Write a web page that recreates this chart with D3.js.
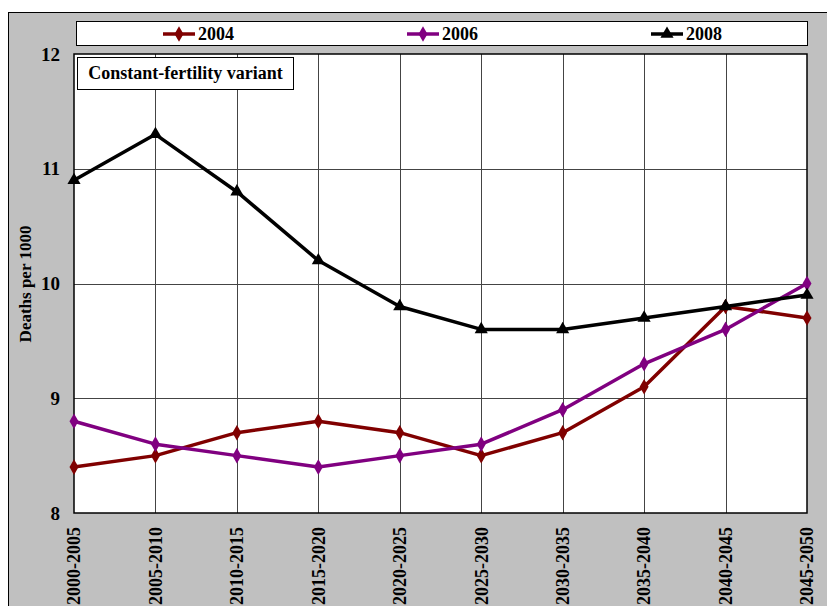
<!DOCTYPE html>
<html>
<head>
<meta charset="utf-8">
<script src="https://cdn.jsdelivr.net/npm/d3@7"></script>
<style>
  body { margin: 0; background: #fff; }
  text { font-family: "Liberation Serif", "Times New Roman", serif; font-weight: bold; }
</style>
</head>
<body>
<div id="chart"></div>
<script>
// Data
const periods = ["2000-2005", "2005-2010", "2010-2015", "2015-2020", "2020-2025",
  "2025-2030", "2030-2035", "2035-2040", "2040-2045", "2045-2050"];
const rates2004 = [8.4, 8.5, 8.7, 8.8, 8.7, 8.5, 8.7, 9.1, 9.8, 9.7];
const rates2006 = [8.8, 8.6, 8.5, 8.4, 8.5, 8.6, 8.9, 9.3, 9.6, 10.0];
const rates2008 = [10.9, 11.3, 10.8, 10.2, 9.8, 9.6, 9.6, 9.7, 9.8, 9.9];
const yTicks = [8, 9, 10, 11, 12];

const series = [
  { name: "2004", values: rates2004, color: "#800000", symbol: d3.symbolDiamond },
  { name: "2006", values: rates2006, color: "#800080", symbol: d3.symbolDiamond },
  { name: "2008", values: rates2008, color: "#000000", symbol: d3.symbolTriangle },
];

const width = 827, height = 606;
const plot = { left: 74, right: 807, top: 54, bottom: 513 };

const svg = d3.select("#chart").append("svg")
  .attr("width", width)
  .attr("height", height);

// outer grey frame
svg.append("rect")
  .attr("x", 8.5).attr("y", 12.5)
  .attr("width", 830).attr("height", 610)
  .attr("fill", "#c0c0c0")
  .attr("stroke", "#000").attr("stroke-width", 1);

// plot background
svg.append("rect")
  .attr("x", plot.left).attr("y", plot.top)
  .attr("width", plot.right - plot.left).attr("height", plot.bottom - plot.top)
  .attr("fill", "#fff");

const x = d3.scalePoint().domain(periods).range([plot.left, plot.right]);
const y = d3.scaleLinear().domain([8, 12]).range([plot.bottom, plot.top]);

// gridlines
svg.append("g")
  .selectAll("line")
  .data(periods.slice(1, -1))
  .join("line")
  .attr("x1", (d) => Math.round(x(d)) + 0.5)
  .attr("x2", (d) => Math.round(x(d)) + 0.5)
  .attr("y1", plot.top).attr("y2", plot.bottom)
  .attr("stroke", "#444").attr("stroke-width", 1);

svg.append("g")
  .selectAll("line")
  .data(yTicks.slice(1, -1))
  .join("line")
  .attr("x1", plot.left).attr("x2", plot.right)
  .attr("y1", (d) => Math.round(y(d)) + 0.5)
  .attr("y2", (d) => Math.round(y(d)) + 0.5)
  .attr("stroke", "#444").attr("stroke-width", 1);

// plot border
svg.append("rect")
  .attr("x", plot.left).attr("y", plot.top)
  .attr("width", plot.right - plot.left).attr("height", plot.bottom - plot.top)
  .attr("fill", "none")
  .attr("stroke", "#000").attr("stroke-width", 1.5);

// y axis labels
svg.append("g")
  .selectAll("text")
  .data(yTicks)
  .join("text")
  .attr("x", 60)
  .attr("y", (d) => y(d))
  .attr("dy", "0.35em")
  .attr("text-anchor", "end")
  .style("font-size", "19px")
  .text((d) => d);

// x axis labels (rotated)
svg.append("g")
  .selectAll("text")
  .data(periods)
  .join("text")
  .attr("transform", (d) => `translate(${x(d)}, 527) rotate(-90)`)
  .attr("dy", "0.35em")
  .attr("text-anchor", "end")
  .style("font-size", "18px")
  .text((d) => d);

// y axis title
svg.append("text")
  .attr("transform", "translate(25, 284) rotate(-90)")
  .attr("dy", "0.35em")
  .attr("text-anchor", "middle")
  .style("font-size", "17px")
  .text("Deaths per 1000");

// lines
const line = d3.line()
  .x((d, i) => x(periods[i]))
  .y((d) => y(d));

const symbolSize = (s) => (s === d3.symbolTriangle ? 75 : 70);

series.forEach((s) => {
  svg.append("path")
    .datum(s.values)
    .attr("d", line)
    .attr("fill", "none")
    .attr("stroke", s.color)
    .attr("stroke-width", 3.5)
    .attr("stroke-linejoin", "round");

  svg.append("g")
    .selectAll("path")
    .data(s.values)
    .join("path")
    .attr("transform", (d, i) => `translate(${x(periods[i])}, ${y(d)})`)
    .attr("d", d3.symbol().type(s.symbol).size(symbolSize(s.symbol)))
    .attr("fill", s.color);
});

// variant label box
svg.append("rect")
  .attr("x", 77.5).attr("y", 57.5)
  .attr("width", 216).attr("height", 32)
  .attr("fill", "#fff")
  .attr("stroke", "#000").attr("stroke-width", 1);
svg.append("text")
  .attr("x", 185.5).attr("y", 72.5)
  .attr("dy", "0.35em")
  .attr("text-anchor", "middle")
  .style("font-size", "18px")
  .text("Constant-fertility variant");

// legend
svg.append("rect")
  .attr("x", 76.5).attr("y", 21.5)
  .attr("width", 731).attr("height", 24)
  .attr("fill", "#fff")
  .attr("stroke", "#000").attr("stroke-width", 1);

const legendX = [163, 407, 651];
const legend = svg.append("g")
  .selectAll("g")
  .data(series)
  .join("g")
  .attr("transform", (d, i) => `translate(${legendX[i]}, 34)`);

legend.append("line")
  .attr("x1", 0).attr("x2", 32)
  .attr("stroke", (d) => d.color)
  .attr("stroke-width", 3.5);
legend.append("path")
  .attr("transform", "translate(16, 0)")
  .attr("d", (d) => d3.symbol().type(d.symbol).size(symbolSize(d.symbol))())
  .attr("fill", (d) => d.color);
legend.append("text")
  .attr("x", 35)
  .attr("dy", "0.35em")
  .style("font-size", "18px")
  .text((d) => d.name);
</script>
</body>
</html>
